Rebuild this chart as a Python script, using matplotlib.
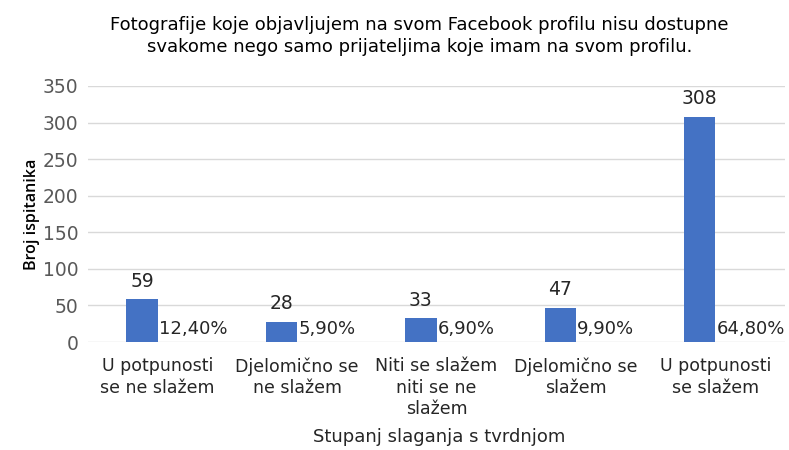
import matplotlib
matplotlib.use("Agg")
import matplotlib.pyplot as plt
import numpy as np

categories = ["U potpunosti\nse ne slažem", "Djelomično se\nne slažem", "Niti se slažem\nniti se ne\nslažem",
              "Djelomično se\nslažem", "U potpunosti\nse slažem"]
counts = [59, 28, 33, 47, 308]
percents = [12.40, 5.90, 6.90, 9.90, 64.80]
percent_labels = ["12,40%", "5,90%", "6,90%", "9,90%", "64,80%"]
yticks = [0, 50, 100, 150, 200, 250, 300, 350]

plt.rcParams['font.family'] = ['DejaVu Sans']

fig = plt.figure(figsize=(7.89, 4.5), dpi=100)
ax = fig.add_axes([0.1115, 0.24, 0.8835, 0.569])

x = np.arange(len(categories))
w = 0.225
bars = ax.bar(x - w / 2, counts, width=w, color="#4472C4", zorder=3)
pbars = ax.bar(x + w / 2, [p / 100 for p in percents], width=w, color="#ED7D31", zorder=3)

for xi, c in zip(x, counts):
    ax.annotate(str(c), (xi - w / 2, c), xytext=(0, 6), textcoords="offset points",
                ha="center", va="bottom", fontsize=13.5, color="#262626")
for xi, lab in zip(x, percent_labels):
    ax.annotate(lab, (xi, 0), xytext=(1, 3), textcoords="offset points",
                ha="left", va="bottom", fontsize=13, color="#262626")

ax.set_xlim(-0.5, len(categories) - 0.5)
ax.set_ylim(0, 350)
ax.set_yticks(yticks)
ax.set_yticklabels([str(t) for t in yticks], fontsize=13.5, color="#595959")
ax.set_xticks(x)
ax.set_xticklabels(categories, fontsize=12.5, color="#262626", linespacing=1.25)
ax.tick_params(axis="both", length=0, pad=7)
ax.tick_params(axis="x", pad=11)
ax.grid(axis="y", color="#D9D9D9", linewidth=1, zorder=0)
for s in ax.spines.values():
    s.set_visible(False)

ax.set_ylabel("Broj ispitanika", fontsize=11.5, fontweight="semibold", color="#000000", labelpad=2,
              family=["Open Sans", "DejaVu Sans"])

fig.text(0.557, 0.029, "Stupanj slaganja s tvrdnjom", ha="center", va="center",
         fontsize=13, color="#262626")

fig.text(0.532, 0.965, "Fotografije koje objavljujem na svom Facebook profilu nisu dostupne\n"
         "svakome nego samo prijateljima koje imam na svom profilu.",
         ha="center", va="top", fontsize=13, color="#000000", linespacing=1.3)

fig.savefig("out.png", dpi=100)
